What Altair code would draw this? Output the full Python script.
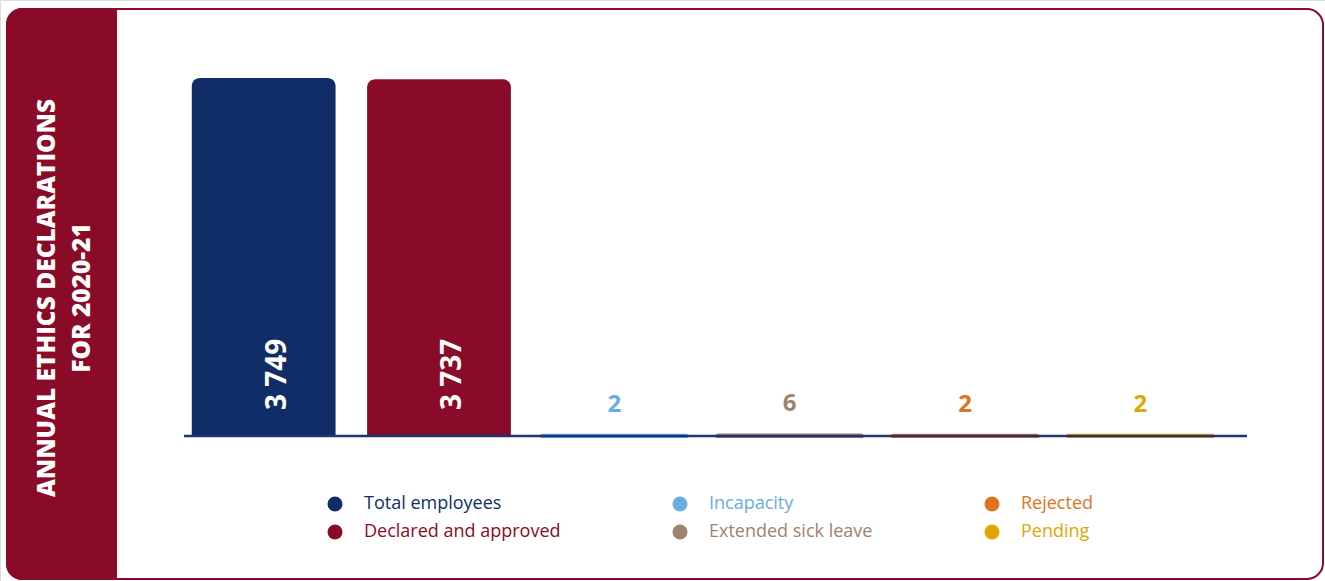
import altair as alt
import pandas as pd

categories = ["Total employees", "Declared and approved", "Incapacity",
              "Extended sick leave", "Rejected", "Pending"]
values = [3749, 3737, 2, 6, 2, 2]
labels = ["3 749", "3 737", "2", "6", "2", "2"]
colors = ["#112d67", "#8a0b28", "#68ade0", "#9b8571", "#e07322", "#e0a800"]
legend_order = ["Total employees", "Incapacity", "Rejected",
                "Declared and approved", "Extended sick leave", "Pending"]
title_lines = ["ANNUAL ETHICS DECLARATIONS", "FOR 2020-21"]

df = pd.DataFrame({"category": categories, "value": values, "label": labels})
col_of = dict(zip(categories, colors))
legend_colors = [col_of[c] for c in legend_order]

MAROON = "#8a0b28"
FONT = "Open Sans"

xscale = alt.Scale(domain=categories, range=[176, 1228],
                   paddingInner=0.18, paddingOuter=0.09)
yscale = alt.Scale(domain=[0, 3749], range=[436, 78], nice=False, zero=True)

X = alt.X("category:N", scale=xscale, axis=None, sort=categories)

one = pd.DataFrame({"a": [0]})

frame = alt.Chart(one).mark_rect(
    fill="white", stroke=MAROON, strokeWidth=2, cornerRadius=16
).encode(x=alt.value(7), x2=alt.value(1323), y=alt.value(9), y2=alt.value(579))

panel = alt.Chart(one).mark_rect(
    fill=MAROON, cornerRadiusTopLeft=16, cornerRadiusBottomLeft=16
).encode(x=alt.value(6), x2=alt.value(117), y=alt.value(8), y2=alt.value(580))

panel_text = alt.Chart(pd.DataFrame({"t": ["\n".join(title_lines)]})).mark_text(
    angle=270, color="white", font=FONT, fontWeight=800, fontSize=24.5,
    lineBreak="\n", lineHeight=35, align="center", baseline="middle"
).encode(x=alt.value(48), y=alt.value(298), text="t:N")

bars = alt.Chart(df).mark_bar(
    cornerRadiusTopLeft=8, cornerRadiusTopRight=8
).encode(
    x=X,
    y=alt.Y("value:Q", scale=yscale, axis=None),
    y2=alt.datum(0),
    color=alt.Color(
        "category:N",
        scale=alt.Scale(domain=legend_order, range=legend_colors),
        legend=alt.Legend(
            title=None, orient="none", legendX=326, legendY=495,
            columns=3, direction="horizontal", symbolType="circle",
            symbolSize=225, symbolStrokeWidth=0, symbolOpacity=1,
            labelFont=FONT, labelFontSize=18, labelOffset=20,
            columnPadding=110, rowPadding=10, padding=0,
            labelLimit=400,
            labelColor={"expr": "scale('color', datum.value)"},
        ),
    ),
    stroke=alt.Stroke("category:N",
                      scale=alt.Scale(domain=legend_order, range=legend_colors),
                      legend=None),
    strokeWidth=alt.condition(alt.datum.value < 100, alt.value(4), alt.value(0)),
)

baseline = alt.Chart(one).mark_rule(
    color="#1f3473", strokeWidth=2.5
).encode(x=alt.value(184), x2=alt.value(1247), y=alt.value(436))

big_labels = alt.Chart(df).transform_filter(alt.datum.value >= 100).mark_text(
    angle=270, color="white", font=FONT, fontWeight="bold", fontSize=28,
    align="left", baseline="middle", dx=26, dy=14
).encode(x=X, y=alt.value(436), text="label:N")

small_labels = alt.Chart(df).transform_filter(alt.datum.value < 100).mark_text(
    font=FONT, fontWeight="bold", fontSize=24, align="center",
    baseline="alphabetic", dy=-24
).encode(
    x=X,
    y=alt.Y("value:Q", scale=yscale, axis=None),
    text="label:N",
    fill=alt.Fill("category:N",
                  scale=alt.Scale(domain=legend_order, range=legend_colors),
                  legend=None),
)

chart = alt.layer(
    frame, panel, panel_text, bars, baseline, big_labels, small_labels
).properties(
    width=1325, height=581, autosize=alt.AutoSizeParams(type="none"), padding=0
).configure_view(stroke=None).configure(background="white")

chart.save("out.html", embed_options={"renderer": "svg", "actions": False})
